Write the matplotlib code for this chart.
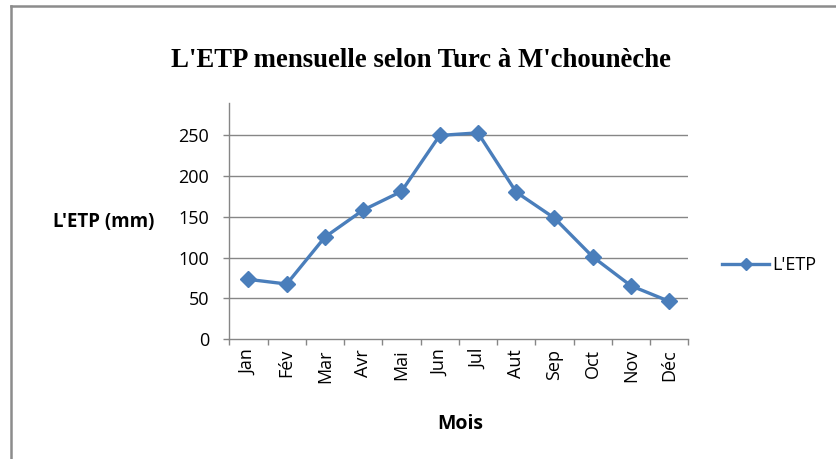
import numpy as np
import matplotlib.pyplot as plt
from matplotlib.lines import Line2D

mois = ['Jan', 'Fév', 'Mar', 'Avr', 'Mai', 'Jun', 'Jul', 'Aut', 'Sep', 'Oct', 'Nov', 'Déc']
etp = [73.4, 67.7, 125.2, 158.3, 181.1, 249.7, 252.9, 180.3, 148.5, 101.1, 65.6, 46.5]
yticks = [0, 50, 100, 150, 200, 250]

bleu = '#4A7EBB'
gris = '#868686'
police = 'Open Sans'

fig = plt.figure(figsize=(8.36, 4.59), dpi=100)
ax = fig.add_axes([0.2743, 0.2608, 0.549, 0.514])

x = np.arange(len(mois))
ax.plot(x, etp, color=bleu, lw=2.4, marker='D', markersize=8, label="L'ETP")

ax.set_xlim(-0.5, len(mois) - 0.5)
ax.set_ylim(0, 289)

# graduations entre les catégories, libellés au centre
ax.set_xticks(np.arange(-0.5, len(mois)), labels=[])
ax.set_xticks(x, minor=True)
ax.set_xticklabels(mois, minor=True, rotation=90, fontsize=13, family=police)
ax.tick_params(axis='x', which='major', length=4.5, color=gris, width=1)
ax.tick_params(axis='x', which='minor', length=0, pad=7)

ax.set_yticks(yticks)
ax.set_yticklabels([str(v) for v in yticks], fontsize=13, family=police)
ax.tick_params(axis='y', length=4.5, color=gris, width=1, pad=10)

for v in yticks[1:]:
    ax.axhline(v, color=gris, lw=1, zorder=0)

for s in ['top', 'right']:
    ax.spines[s].set_visible(False)
for s in ['left', 'bottom']:
    ax.spines[s].set_color(gris)
    ax.spines[s].set_linewidth(1)

fig.text(0.503, 0.868, "L'ETP mensuelle selon Turc à M'chounèche", ha='center', va='center',
         fontsize=19.3, fontweight='bold', family='Liberation Serif')
fig.text(0.124, 0.516, "L'ETP (mm)", ha='center', va='center', fontsize=13.5,
         fontweight='bold', family=police)
fig.text(0.55, 0.076, 'Mois', ha='center', va='center', fontsize=14,
         fontweight='bold', family=police)

handle = Line2D([], [], color=bleu, lw=2.4, marker='D', markersize=6)
fig.legend([handle], ["L'ETP"], loc='center left', bbox_to_anchor=(0.864, 0.422),
           frameon=False, handlelength=2.6, handletextpad=0.15, borderaxespad=0,
           borderpad=0, prop={'family': police, 'size': 13})

# cadre du graphique (bords gauche et haut)
fig.add_artist(Line2D([0.0132, 0.0132], [0, 0.987], color='#8C8C8C', lw=1.8,
                      transform=fig.transFigure))
fig.add_artist(Line2D([0.0132, 1.0], [0.987, 0.987], color='#8C8C8C', lw=1.8,
                      transform=fig.transFigure))

fig.savefig('out.png', dpi=100)
